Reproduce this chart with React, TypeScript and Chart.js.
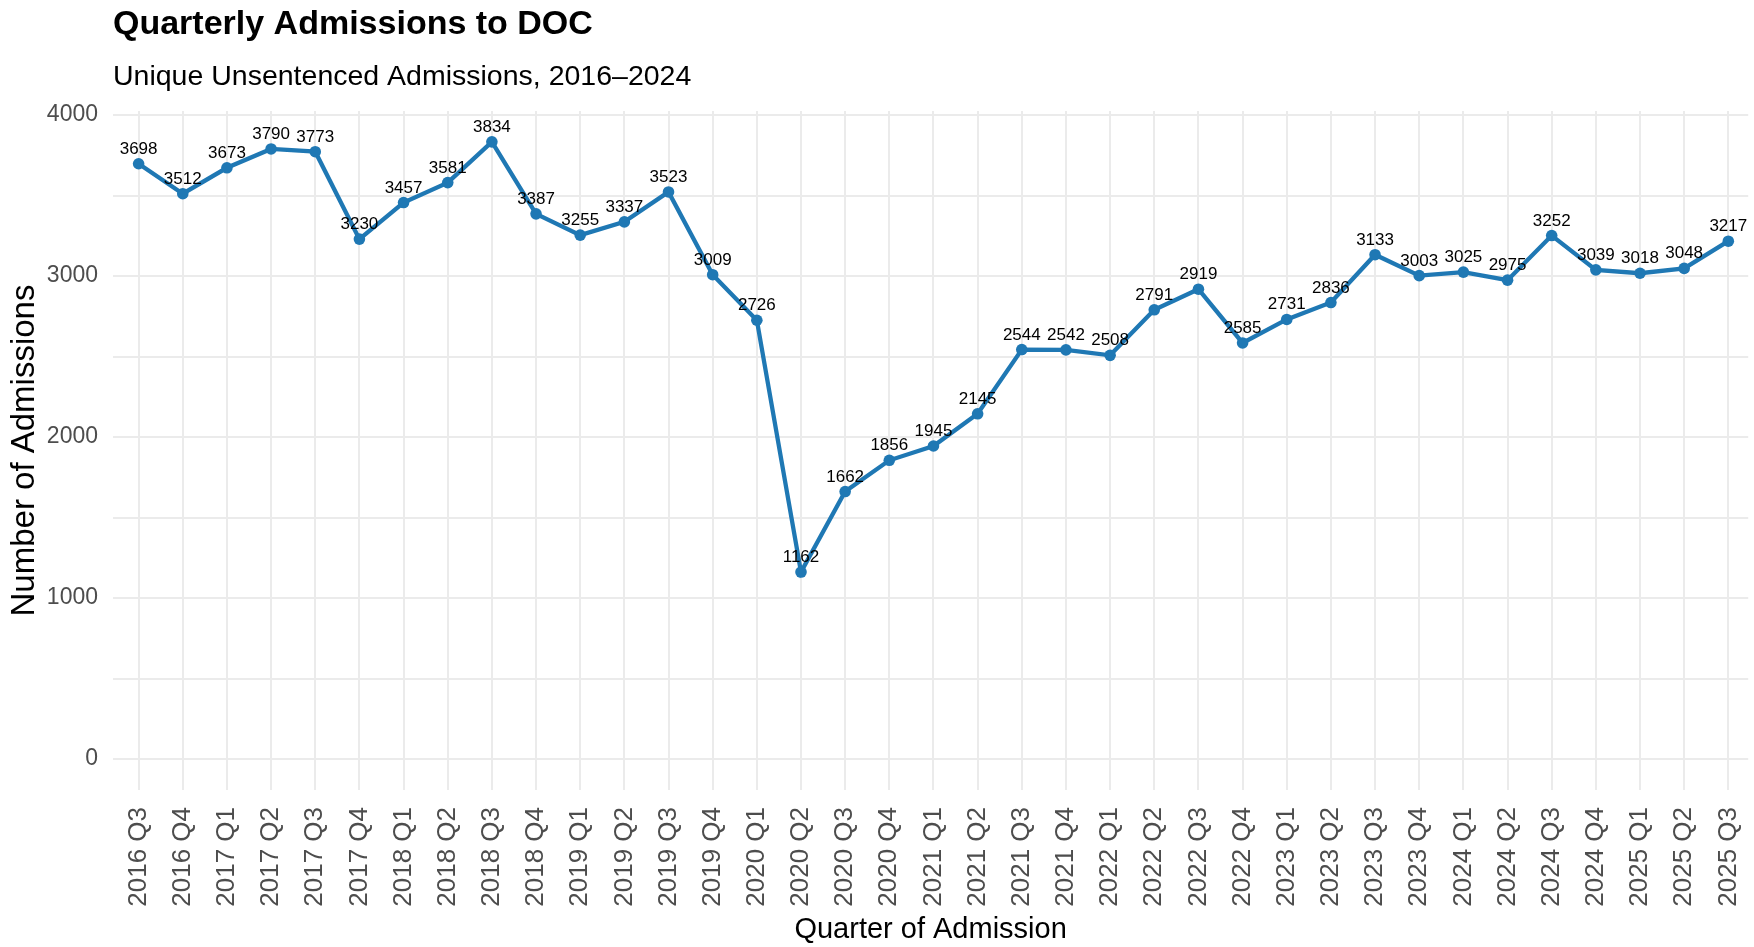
import React, { useEffect, useRef } from "react";
import { Chart, registerables } from "chart.js";

Chart.register(...registerables);

const quarters: string[] = [
  "2016 Q3", "2016 Q4",
  "2017 Q1", "2017 Q2", "2017 Q3", "2017 Q4",
  "2018 Q1", "2018 Q2", "2018 Q3", "2018 Q4",
  "2019 Q1", "2019 Q2", "2019 Q3", "2019 Q4",
  "2020 Q1", "2020 Q2", "2020 Q3", "2020 Q4",
  "2021 Q1", "2021 Q2", "2021 Q3", "2021 Q4",
  "2022 Q1", "2022 Q2", "2022 Q3", "2022 Q4",
  "2023 Q1", "2023 Q2", "2023 Q3", "2023 Q4",
  "2024 Q1", "2024 Q2", "2024 Q3", "2024 Q4",
  "2025 Q1", "2025 Q2", "2025 Q3",
];

const admissions: number[] = [
  3698, 3512,
  3673, 3790, 3773, 3230,
  3457, 3581, 3834, 3387,
  3255, 3337, 3523, 3009,
  2726, 1162, 1662, 1856,
  1945, 2145, 2544, 2542,
  2508, 2791, 2919, 2585,
  2731, 2836, 3133, 3003,
  3025, 2975, 3252, 3039,
  3018, 3048, 3217,
];

// gridlines every 500, labels only at the thousands
const yGridValues: number[] = [0, 500, 1000, 1500, 2000, 2500, 3000, 3500, 4000];
const yTickLabels: number[] = [0, 1000, 2000, 3000, 4000];

const TITLE = "Quarterly Admissions to DOC";
const SUBTITLE = "Unique Unsentenced Admissions, 2016\u20132024";
const X_TITLE = "Quarter of Admission";
const Y_TITLE = "Number of Admissions";

const FONT = "'Liberation Sans', Arial, Helvetica, sans-serif";
const LINE_COLOR = "#1f78b4";
const GRID_COLOR = "#ebebeb";

const pointLabels = {
  id: "pointLabels",
  afterDatasetsDraw(chart: any) {
    const ctx = chart.ctx;
    const meta = chart.getDatasetMeta(0);
    ctx.save();
    ctx.font = `17px ${FONT}`;
    ctx.fillStyle = "#000000";
    ctx.textAlign = "center";
    ctx.textBaseline = "alphabetic";
    meta.data.forEach((pt: any, i: number) => {
      ctx.fillText(String(admissions[i]), pt.x, pt.y - 10);
    });
    ctx.restore();
  },
};

export default function App() {
  const canvasRef = useRef<HTMLCanvasElement | null>(null);

  useEffect(() => {
    document.body.style.margin = "0";
    const canvas = canvasRef.current;
    if (!canvas) return;
    const chart = new Chart(canvas, {
      type: "line",
      data: {
        datasets: [
          {
            data: admissions.map((v, i) => ({ x: i, y: v })),
            borderColor: LINE_COLOR,
            backgroundColor: LINE_COLOR,
            borderWidth: 4.3,
            pointRadius: 5.8,
            pointBorderWidth: 0,
            pointBackgroundColor: LINE_COLOR,
            tension: 0,
            clip: false as any,
          },
        ],
      },
      options: {
        responsive: false,
        animation: false,
        devicePixelRatio: 1,
        layout: { padding: { top: 0, left: 0, right: 0, bottom: 0 } },
        plugins: {
          legend: { display: false },
          tooltip: { enabled: false },
          title: {
            display: true,
            text: TITLE,
            align: "start",
            fullSize: false,
            color: "#000000",
            font: { family: FONT, size: 34, weight: "bold" },
            padding: { top: 4, bottom: 0 },
          },
          subtitle: {
            display: true,
            text: SUBTITLE,
            align: "start",
            fullSize: false,
            color: "#000000",
            font: { family: FONT, size: 28.5, weight: "normal" },
            padding: { top: 15, bottom: 17 },
          },
        },
        scales: {
          x: {
            type: "linear",
            min: -0.58,
            max: 36.45,
            border: { display: false },
            grid: { color: GRID_COLOR, lineWidth: 2, drawTicks: false },
            afterBuildTicks: (scale: any) => {
              scale.ticks = quarters.map((_, i) => ({ value: i }));
            },
            ticks: {
              autoSkip: false,
              minRotation: 90,
              maxRotation: 90,
              padding: 17,
              color: "#4d4d4d",
              font: { family: FONT, size: 26 },
              callback: (v: any) => quarters[Math.round(Number(v))] ?? "",
            },
            title: {
              display: true,
              text: X_TITLE,
              color: "#000000",
              font: { family: FONT, size: 29 },
              padding: { top: 0, bottom: 0 },
            },
            afterFit: (scale: any) => {
              scale.height = 157;
              scale.paddingLeft = 0;
              scale.paddingRight = 0;
            },
          },
          y: {
            type: "linear",
            min: -191.7,
            max: 4025.7,
            border: { display: false },
            grid: { color: GRID_COLOR, lineWidth: 2, drawTicks: false },
            afterBuildTicks: (scale: any) => {
              scale.ticks = yGridValues.map((v) => ({ value: v }));
            },
            ticks: {
              autoSkip: false,
              padding: 15,
              color: "#4d4d4d",
              font: { family: FONT, size: 23 },
              callback: (v: any) => (yTickLabels.includes(Number(v)) ? String(v) : ""),
            },
            title: {
              display: true,
              text: Y_TITLE,
              color: "#000000",
              font: { family: FONT, size: 33 },
              padding: { top: 5, bottom: 0 },
            },
            afterFit: (scale: any) => {
              scale.width = 113;
              scale.paddingTop = 0;
              scale.paddingBottom = 0;
            },
          },
        },
      },
      plugins: [pointLabels],
    } as any);
    return () => chart.destroy();
  }, []);

  return (
    <div style={{ width: 1754, height: 947, overflow: "hidden" }}>
      <canvas
        ref={canvasRef}
        width={1754}
        height={947}
        style={{ display: "block", width: 1754, height: 947 }}
      />
    </div>
  );
}
